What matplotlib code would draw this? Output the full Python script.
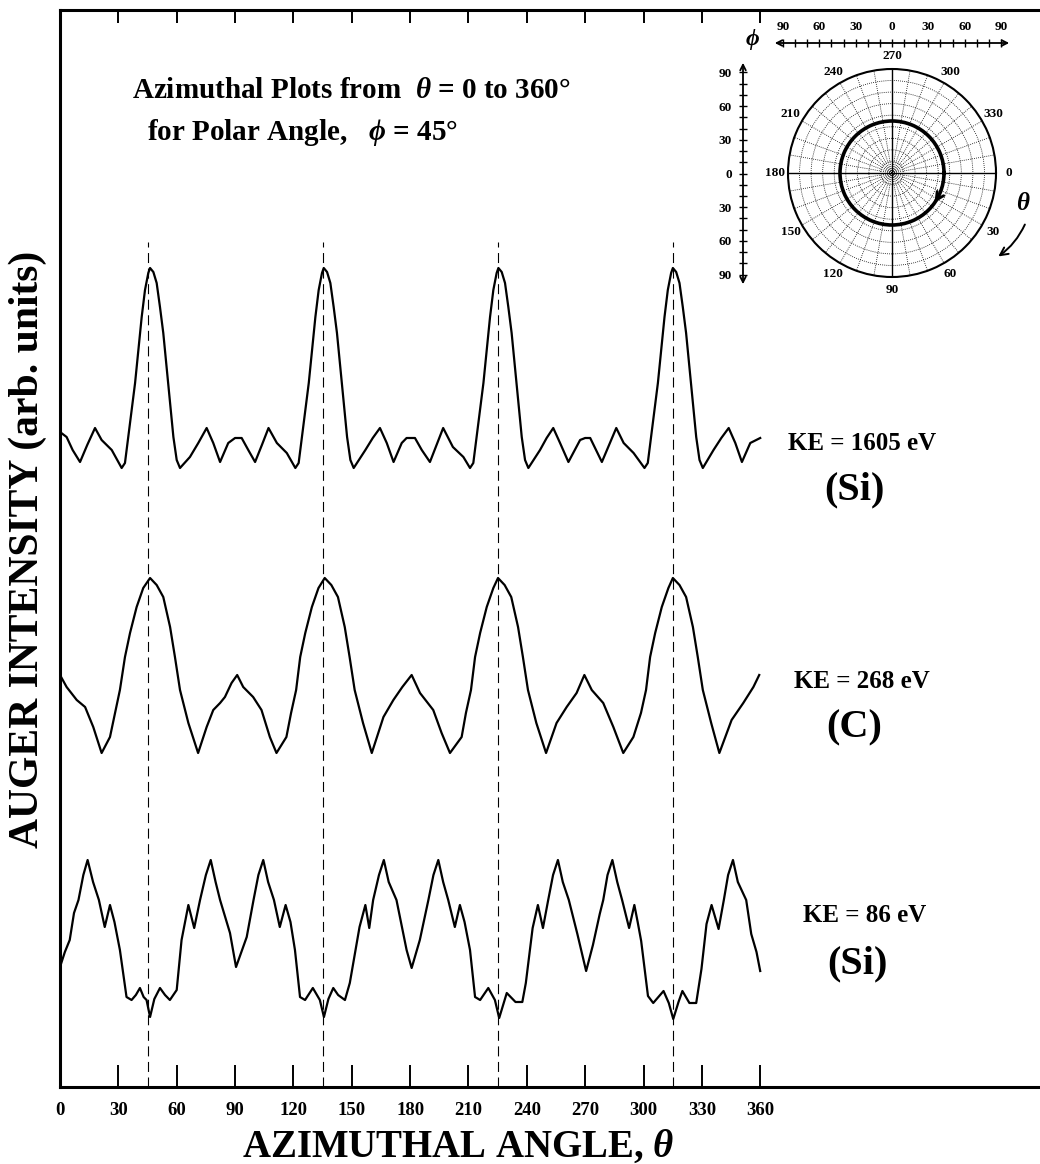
import numpy as np
import matplotlib
matplotlib.use("Agg")
import matplotlib.pyplot as plt

plt.rcParams["font.family"] = ["Liberation Serif", "DejaVu Serif"]
plt.rcParams["font.weight"] = "bold"
plt.rcParams["mathtext.fontset"] = "custom"
plt.rcParams["mathtext.it"] = "Liberation Serif:italic:bold"
plt.rcParams["mathtext.rm"] = "Liberation Serif:bold"

# azimuthal scans, intensity in arbitrary units
theta_1605 = [0, 3.4, 6.5, 10.3, 14, 18, 21.4, 26.6, 31.7, 33.4, 36, 38.6, 40.3, 42,
              43.7, 45.4, 46.3, 48, 49.7, 51.4, 53.1, 54.8, 56.6, 58.3, 60, 61.7,
              66.8, 71.1, 75.4, 78.8, 82.3, 86.5, 90, 93.4, 96.8, 100.3, 103.8,
              107.2, 111.5, 116.6, 121, 122.7, 125.3, 127.9, 129.6, 131.3, 133,
              134.7, 135.6, 137.3, 139, 140.7, 142.4, 144.1, 145.9, 147.6, 149.3,
              151, 157, 160.8, 164.5, 168, 171.5, 175.7, 178.2, 182.5, 186, 190.2,
              193.6, 197, 202, 207.4, 210.8, 212.5, 215.1, 217.7, 219.4, 221.1,
              222.8, 224.5, 225.4, 227.1, 228.8, 230.5, 232.2, 233.9, 235.7, 237.4,
              239.1, 240.8, 246.8, 250.2, 253.6, 257.1, 261.4, 267.4, 270, 272.6,
              275.6, 278.6, 282.3, 286, 289.8, 294.9, 300.5, 302.2, 304.8, 307.4,
              309.1, 310.8, 312.5, 314.2, 315.1, 316.8, 318.5, 320.2, 321.9, 323.6,
              325.4, 327.1, 328.8, 330.5, 336, 340, 343.8, 347.2, 350.6, 354.9, 360]
int_1605 = [655, 650, 637, 625, 642, 659, 647, 637, 619, 624, 664, 704, 737, 770,
            797, 814, 819, 815, 804, 780, 754, 720, 684, 650, 627, 619,
            630, 644, 659, 644, 625, 644, 649, 649, 637, 625, 642,
            659, 644, 634, 619, 624, 664, 704, 737, 770, 797,
            814, 819, 815, 804, 780, 754, 720, 684, 650, 627,
            619, 637, 649, 659, 644, 625, 644, 649, 649, 637, 625,
            642, 659, 640, 630, 619, 624, 664, 704, 737, 770,
            797, 814, 819, 815, 804, 780, 754, 720, 684, 650,
            627, 619, 637, 649, 659, 644, 625, 647, 649, 649,
            637, 625, 642, 659, 644, 634, 619, 624, 664, 704,
            737, 770, 797, 814, 819, 815, 804, 780, 754, 720,
            684, 650, 627, 619, 637, 649, 659, 644, 625, 644, 649]

theta_268 = [0, 3.4, 8.6, 12.9, 17.1, 21.4, 25.7, 28.3, 30.8, 33.4, 36, 39.4, 42.8,
             46.3, 49.7, 53.1, 56.6, 59.1, 61.7, 66, 71, 75.4, 78.8, 82.3, 84.8,
             88.2, 91.1, 94.2, 99.3, 103.6, 107.9, 111.3, 116.4, 118.8, 121.4,
             123.5, 126.1, 129.5, 132.9, 136.1, 139.5, 142.9, 146.4, 148.9, 151.5,
             155.8, 160.3, 166.3, 171.4, 176, 180.8, 185.1, 191.9, 196.2, 200.5,
             206.5, 208.7, 211.3, 213.4, 216, 219.4, 222.8, 225.2, 228.6, 232,
             235.5, 238, 240.6, 244.9, 249.9, 255.3, 260.5, 265.6, 269.6, 273.4,
             279.3, 284.5, 289.6, 294.8, 298.7, 301.3, 303.4, 306, 309.4, 312.8,
             315.1, 318.5, 321.9, 325.4, 327.9, 330.5, 334.8, 339, 345.3, 351.3,
             356.5, 359.5]
int_268 = [412, 400, 387, 380, 360, 334, 350, 374, 397, 430, 454, 480, 499,
           509, 502, 490, 460, 430, 397, 364, 334, 360, 377, 384, 390,
           404, 412, 400, 390, 377, 350, 334, 350, 374, 397,
           430, 454, 480, 499, 509, 502, 490, 460, 430, 397,
           364, 334, 370, 387, 400, 412, 394, 377, 354, 334,
           350, 374, 397, 430, 454, 480, 499, 509, 502, 490,
           460, 430, 397, 364, 334, 364, 380, 394, 412, 397,
           384, 360, 334, 350, 374, 397, 430, 454, 480, 499,
           509, 502, 490, 460, 430, 397, 364, 334, 367, 384,
           400, 412]

theta_86 = [0, 2.5, 5, 7.2, 9.5, 12, 14.2, 17, 20, 23, 25.7, 28, 30.8, 34.2, 36.8,
            39, 41.1, 43, 44.5, 46.3, 48.5, 51.4, 54, 56.5, 60, 62.5, 66, 69, 72,
            75, 77.5, 80, 82.3, 87.4, 90.5, 96, 99.5, 102, 104.5, 107, 110, 113,
            116, 118.5, 120.8, 123.4, 126, 130, 133.6, 135.7, 138, 140.5, 143,
            146.5, 149, 154, 157, 159, 161, 164, 166.5, 169, 173, 178.2, 180.8,
            185, 189.4, 192, 194.5, 197, 199.6, 203, 205.6, 208, 210.8, 213.4,
            216, 220.2, 223.6, 225.8, 229.7, 234.2, 237.7, 239.5, 243, 245.7,
            248.3, 251, 253.5, 256, 258.5, 261.6, 266, 270.5, 274, 277.5, 279.3,
            281.5, 284, 286.5, 289, 292.6, 295.3, 297, 298.8, 302.3, 305, 310.3,
            313, 315.3, 318, 320, 323.6, 327.1, 329.8, 332.4, 335, 338.6, 341.3,
            343.5, 346, 348.5, 352.8, 355.4, 358.1, 360]
int_86 = [120, 135, 147, 174, 187, 212, 227, 205, 187, 160, 182, 165, 137, 90, 87,
          92, 99, 90, 87, 70, 88, 99, 92, 87, 97, 147, 182, 159, 187,
          212, 227, 205, 187, 154, 120, 150, 187, 212, 227, 205, 187, 160,
          182, 165, 137, 90, 87, 99, 87, 70, 88, 99, 92,
          87, 104, 160, 182, 159, 187, 212, 227, 205, 187, 137, 119,
          147, 187, 212, 227, 205, 187, 160, 182, 165, 137, 90,
          87, 99, 87, 69, 94, 85, 85, 104, 159, 182,
          159, 187, 212, 227, 205, 187, 153, 116, 142, 173, 187,
          212, 227, 205, 187, 159, 182, 165, 146, 91, 84, 96,
          84, 68, 85, 96, 84, 84, 118, 163, 182, 158, 187,
          212, 227, 205, 187, 153, 135, 116]

guide_angles = [45, 135, 225, 315]
guide_top = 845
x_ticks = list(range(0, 361, 30))

labels = [("KE = 1605 eV", "(Si)"), ("KE = 268 eV", "(C)"), ("KE = 86 eV", "(Si)")]

# inset: polar map of the scan
phi_scan = 45
polar_ticks = list(range(0, 360, 10))
phi_ticks = list(range(-90, 91, 10))

W, H = 1040, 1164
fig = plt.figure(figsize=(W / 100, H / 100), dpi=100)


def fx(px):
    return px / W


def fy(py):
    return 1 - py / H


ax = fig.add_axes([fx(60), fy(1087), fx(978), 1077 / H])
ax.set_xlim(0, 978 / 1.945)
ax.set_ylim(0, 1077)

for th, val in [(theta_1605, int_1605), (theta_268, int_268), (theta_86, int_86)]:
    ax.plot(th, val, color="k", lw=1.6, solid_joinstyle="round")

for a in guide_angles:
    ax.axvline(a, ymin=0, ymax=guide_top / 1077, color="k", lw=0.8,
               ls=(0, (9, 5)))

ax.set_xticks(x_ticks)
ax.set_xticklabels([str(t) for t in x_ticks])
ax.tick_params(axis="x", direction="in", length=16, width=1.4, labelsize=13.5, pad=11)
ax.set_yticks([])
for s in ["left", "bottom", "top"]:
    ax.spines[s].set_linewidth(2.2)
ax.spines["right"].set_visible(False)

sec = ax.secondary_xaxis("top")
sec.set_xticks(x_ticks[1:])
sec.tick_params(direction="in", length=9, width=1.4, labeltop=False)

ax.set_xlabel(r"AZIMUTHAL ANGLE, $\theta$", fontsize=28, fontweight="bold",
              va="center")
ax.xaxis.set_label_coords((458 - 60) / 978, (1087 - 1147) / 1077)
ax.set_ylabel("AUGER INTENSITY (arb. units)", fontsize=30, fontweight="bold",
              va="center")
ax.yaxis.set_label_coords((28 - 60) / 978, (1087 - 549) / 1077)

fig.text(fx(132), fy(90), r"Azimuthal Plots from  $\theta$ = 0 to 360°",
         fontsize=21, ha="left", va="center")
fig.text(fx(147), fy(133), r"for Polar Angle,   $\phi$ = 45°",
         fontsize=21, ha="left", va="center")

label_pos = [(862, 443, 490), (862, 682, 728), (865, 915, 964)]
for (ke, el), (x, y1, y2) in zip(labels, label_pos):
    fig.text(fx(x), fy(y1), ke, fontsize=18, ha="center", va="center")
    fig.text(fx(x - 8), fy(y2), el, fontsize=29, ha="center", va="center")

# polar inset
pax = fig.add_axes([fx(788), fy(277), fx(208), 208 / H], projection="polar")
pax.set_theta_zero_location("E")
pax.set_theta_direction(-1)
pax.set_ylim(0, 90)
pax.set_xticks(np.deg2rad(polar_ticks))
pax.set_xticklabels([str(t) if t % 30 == 0 else "" for t in polar_ticks],
                    fontsize=9.5)
pax.tick_params(axis="x", pad=-1)
pax.set_yticks(range(10, 90, 10))
pax.set_yticklabels([])
pax.grid(True, color="k", ls=(0, (1, 1.5)), lw=0.6)
pax.spines["polar"].set_linewidth(1.5)
pax.vlines(np.deg2rad([0, 90, 180, 270]), 0, 90, color="k", lw=1.0)
pax.axhline(phi_scan, color="k", lw=2.6)
pax.annotate("", xy=(np.deg2rad(38), phi_scan), xytext=(np.deg2rad(28), phi_scan),
             arrowprops=dict(arrowstyle="->", lw=2, color="k", mutation_scale=14))

# phi scales
hax = fig.add_axes([fx(772), fy(43), fx(240), 0.0001])
hax.set_xlim(-99, 99)
hax.set_xticks(phi_ticks)
hax.set_xticklabels([str(abs(t)) if t % 30 == 0 else "" for t in phi_ticks],
                    fontsize=9.5)
hax.set_yticks([])
for s in hax.spines.values():
    s.set_visible(False)
hax.tick_params(axis="x", direction="inout", length=6, width=1, top=False,
                bottom=True, labeltop=True, labelbottom=False, pad=4)
hax.annotate("", xy=(0, 0), xytext=(1, 0), xycoords="axes fraction",
             arrowprops=dict(arrowstyle="<->", lw=1.3, color="k"))

vax = fig.add_axes([fx(743), fy(287), 0.0001, 227 / H])
vax.set_ylim(101, -101)
vax.set_yticks(phi_ticks)
vax.set_yticklabels([str(abs(t)) if t % 30 == 0 else "" for t in phi_ticks],
                    fontsize=9.5)
vax.set_xticks([])
for s in vax.spines.values():
    s.set_visible(False)
vax.tick_params(axis="y", direction="inout", length=6, width=1, pad=5)
vax.annotate("", xy=(0, 0), xytext=(0, 1), xycoords="axes fraction",
             arrowprops=dict(arrowstyle="<->", lw=1.3, color="k"))

fig.text(fx(752), fy(40), r"$\phi$", fontsize=17, ha="center", va="center")
fig.text(fx(1023), fy(203), r"$\theta$", fontsize=18, ha="center", va="center")
fig.add_artist(matplotlib.patches.FancyArrowPatch(
    (fx(1026), fy(222)), (fx(996), fy(258)), transform=fig.transFigure,
    arrowstyle="->", mutation_scale=14, lw=1.4, color="k",
    connectionstyle="arc3,rad=-0.15"))

fig.savefig("out.png", dpi=100, facecolor="white")
